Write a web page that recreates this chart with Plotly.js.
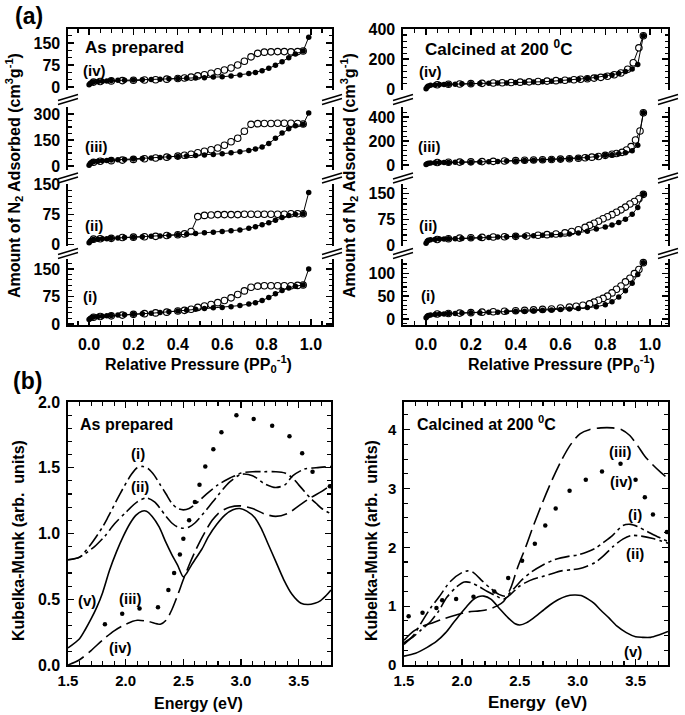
<!DOCTYPE html>
<html><head><meta charset="utf-8">
<script src="https://cdn.plot.ly/plotly-3.0.1.min.js"></script>
<style>html,body{margin:0;padding:0;background:#fff}#chart{width:685px;height:715px}</style>
</head><body><div id="chart"></div>
<script>
// ---------- (a) N2 isotherms, "As prepared" ----------
const apAdsP = [0.0,0.005,0.01,0.02,0.04,0.06,0.08,0.1,0.13,0.16,0.2,0.24,0.28,0.32,0.36,0.4,0.44,0.48,0.52,0.56,0.6,0.64,0.68,0.72,0.75,0.78,0.81,0.84,0.87,0.9,0.93,0.965,0.99];
const apDesP = [0.965,0.94,0.91,0.88,0.85,0.82,0.79,0.76,0.73,0.70,0.67,0.64,0.61,0.58,0.55,0.52,0.49,0.46,0.43,0.4,0.35,0.3,0.25,0.2,0.15,0.1,0.05,0.02];
const apI_ads   = [12,15,17,19,20,21,22,23,24,25,26,28,29,31,33,35,37,40,42,44,45,47,50,54,58,64,72,82,91,98,103,106,150];
const apI_des   = [106,105,104,104,104,104,104,103,100,90,80,71,64,58,53,49,45,40,37,35,32,30,28,26,24,22,20,18];
const apII_ads  = [5,9,11,13,14,15,15,16,17,18,19,20,21,22,23,25,26,28,30,31,33,35,37,41,45,50,55,61,68,73,76,77,130];
const apII_des  = [77,77,77,76,76,76,76,76,76,76,75,75,75,75,74,73,70,33,27,25,23,21,20,19,18,16,15,14];
const apIII_ads = [5,15,20,25,28,30,32,34,36,38,40,43,46,49,52,55,58,61,64,67,71,76,82,90,98,110,130,160,190,215,232,240,305];
const apIII_des = [242,245,246,246,246,245,245,244,240,200,160,140,120,104,94,85,76,68,62,57,51,46,42,38,34,31,27,22];
const apIV_ads  = [8,12,15,17,19,20,21,22,23,23,24,25,26,27,28,29,30,31,32,34,35,38,41,46,50,56,64,74,86,100,113,123,170];
const apIV_des  = [123,121,120,121,121,120,119,115,103,88,75,65,58,52,47,42,38,34,31,29,27,25,24,23,22,21,19,17];

// ---------- (a) N2 isotherms, "Calcined at 200 C" ----------
const caAdsP = [0.0,0.005,0.01,0.02,0.04,0.06,0.08,0.1,0.13,0.16,0.2,0.24,0.28,0.32,0.36,0.4,0.44,0.48,0.52,0.56,0.6,0.64,0.68,0.72,0.76,0.8,0.83,0.86,0.89,0.92,0.945,0.97];
const caI_ads   = [3,6,8,9,10,11,11,12,12,13,14,14,15,15,16,17,17,18,19,20,21,22,23,25,27,31,38,48,62,78,97,123];
const caI_desP  = [0.97,0.95,0.93,0.91,0.89,0.87,0.85,0.83,0.81,0.79,0.77,0.75,0.73,0.7,0.67,0.64,0.6,0.56,0.52,0.48,0.44,0.4,0.35,0.3,0.25,0.2,0.15,0.1,0.05];
const caI_des   = [123,108,99,89,81,72,65,57,50,45,41,37,33,30,28,26,24,22,21,20,19,18,17,16,15,14,13,12,11];
const caII_ads  = [6,12,15,16,17,18,18,19,19,20,21,22,23,24,25,26,27,28,29,30,31,33,36,41,47,53,59,66,76,90,110,148];
const caII_desP = [0.97,0.95,0.93,0.91,0.89,0.87,0.85,0.83,0.81,0.79,0.77,0.75,0.73,0.71,0.68,0.65,0.62,0.58,0.54,0.5,0.45,0.4,0.35,0.3,0.25,0.2,0.15,0.1,0.05];
const caII_des  = [148,135,127,120,111,103,96,89,83,77,70,64,58,52,45,40,36,33,31,29,27,26,25,24,23,22,21,19,17];
const caIII_ads = [3,10,14,17,19,20,21,21,22,22,23,25,27,29,32,34,37,40,42,45,48,52,57,62,70,80,86,94,102,118,165,435];
const caIII_desP= [0.97,0.955,0.935,0.915,0.895,0.875,0.85,0.83,0.8,0.77,0.74,0.71,0.68,0.64,0.6,0.56,0.52,0.48,0.44,0.4,0.35,0.3,0.25,0.2,0.15,0.1,0.05];
const caIII_des = [435,283,208,153,125,105,95,89,80,71,65,60,56,52,49,46,44,41,39,36,33,30,28,26,24,22,20];
const caIV_ads  = [4,15,22,26,29,31,32,33,34,36,37,38,40,41,42,44,46,48,50,53,57,61,66,72,79,88,95,104,118,135,165,355];
const caIV_desP = [0.97,0.95,0.925,0.9,0.87,0.84,0.81,0.78,0.75,0.72,0.69,0.66,0.62,0.58,0.54,0.5,0.46,0.42,0.38,0.34,0.3,0.25,0.2,0.15,0.1,0.05];
const caIV_des  = [355,275,176,133,108,96,86,79,74,70,66,63,60,57,54,51,49,47,45,43,41,39,37,35,33,30];

// ---------- (b) Kubelka-Munk spectra, "As prepared" ----------
const apE_i   = [1.5,1.6,1.7,1.8,1.85,1.95,2.05,2.1,2.15,2.2,2.25,2.3,2.35,2.4,2.45,2.5,2.55,2.6,2.7,2.8,2.9,2.95,3.0,3.1,3.2,3.3,3.38,3.45,3.5,3.55,3.6,3.65,3.7,3.78];
const apK_i   = [0.8,0.82,0.92,1.05,1.13,1.3,1.45,1.5,1.51,1.49,1.44,1.37,1.3,1.23,1.19,1.18,1.19,1.22,1.3,1.37,1.42,1.44,1.46,1.47,1.47,1.47,1.46,1.42,1.37,1.32,1.27,1.23,1.19,1.15];
const apE_ii  = [1.5,1.6,1.7,1.73,1.82,1.9,2.0,2.1,2.18,2.25,2.3,2.35,2.4,2.45,2.5,2.55,2.6,2.7,2.8,2.9,3.0,3.1,3.2,3.3,3.38,3.45,3.55,3.65,3.78];
const apK_ii  = [0.8,0.82,0.88,0.9,0.98,1.07,1.16,1.24,1.27,1.24,1.19,1.13,1.08,1.05,1.04,1.05,1.08,1.18,1.29,1.39,1.45,1.44,1.38,1.35,1.37,1.44,1.49,1.5,1.51];
const apE_iii = [1.82,1.97,2.12,2.28,2.37,2.42,2.47,2.5,2.55,2.6,2.64,2.69,2.76,2.83,2.96,3.11,3.27,3.42,3.53,3.62,3.77];
const apK_iii = [0.31,0.39,0.43,0.44,0.57,0.7,0.84,0.96,1.1,1.24,1.37,1.51,1.64,1.77,1.9,1.87,1.82,1.74,1.61,1.47,1.36];
const apE_iv  = [1.5,1.6,1.7,1.8,1.9,2.0,2.1,2.2,2.3,2.35,2.4,2.45,2.5,2.55,2.6,2.65,2.7,2.75,2.8,2.85,2.9,3.0,3.1,3.2,3.3,3.4,3.5,3.6,3.7,3.78];
const apK_iv  = [0.0,0.04,0.11,0.19,0.26,0.31,0.34,0.33,0.31,0.34,0.42,0.53,0.65,0.76,0.86,0.95,1.03,1.1,1.15,1.18,1.2,1.21,1.19,1.15,1.13,1.15,1.21,1.27,1.32,1.37];
const apE_v   = [1.5,1.6,1.65,1.7,1.75,1.8,1.86,1.92,1.98,2.04,2.09,2.14,2.18,2.23,2.29,2.35,2.4,2.45,2.5,2.53,2.57,2.6,2.66,2.72,2.79,2.86,2.93,2.99,3.05,3.12,3.18,3.23,3.3,3.37,3.44,3.52,3.58,3.64,3.69,3.74,3.78];
const apK_v   = [0.13,0.2,0.27,0.35,0.44,0.55,0.72,0.86,0.98,1.08,1.14,1.17,1.17,1.13,1.05,0.93,0.84,0.76,0.67,0.7,0.76,0.8,0.88,0.98,1.07,1.14,1.18,1.19,1.17,1.12,1.03,0.93,0.79,0.65,0.54,0.47,0.46,0.47,0.49,0.53,0.57];

// ---------- (b) Kubelka-Munk spectra, "Calcined at 200 C" ----------
const caE_i   = [1.5,1.58,1.65,1.73,1.8,1.9,2.0,2.05,2.1,2.18,2.25,2.32,2.38,2.45,2.52,2.6,2.7,2.8,2.93,3.0,3.08,3.15,3.22,3.3,3.39,3.46,3.52,3.6,3.7,3.78];
const caK_i   = [0.35,0.5,0.72,0.97,1.15,1.42,1.57,1.6,1.57,1.42,1.3,1.2,1.17,1.3,1.45,1.58,1.7,1.79,1.85,1.87,1.92,1.98,2.08,2.2,2.37,2.39,2.35,2.27,2.17,2.1];
const caE_ii  = [1.5,1.58,1.65,1.73,1.8,1.87,1.95,2.02,2.08,2.15,2.22,2.3,2.36,2.42,2.49,2.55,2.62,2.69,2.79,2.86,2.95,3.02,3.08,3.15,3.22,3.31,3.39,3.46,3.55,3.65,3.78];
const caK_ii  = [0.38,0.48,0.6,0.74,0.92,1.15,1.32,1.41,1.4,1.33,1.25,1.17,1.12,1.2,1.33,1.4,1.46,1.5,1.56,1.6,1.62,1.64,1.68,1.74,1.85,2.02,2.14,2.2,2.19,2.15,2.07];
const caE_iii = [1.5,1.58,1.65,1.75,1.85,1.95,2.05,2.15,2.22,2.3,2.36,2.42,2.48,2.55,2.62,2.7,2.78,2.86,2.94,3.02,3.1,3.2,3.3,3.38,3.45,3.52,3.58,3.65,3.72,3.78];
const caK_iii = [0.42,0.57,0.65,0.72,0.79,0.85,0.9,0.92,0.94,1.0,1.08,1.3,1.65,2.0,2.38,2.78,3.15,3.48,3.75,3.93,4.0,4.03,4.03,4.0,3.9,3.72,3.55,3.4,3.27,3.17];
const caE_iv  = [1.54,1.66,1.78,1.83,1.95,2.1,2.28,2.4,2.52,2.63,2.72,2.81,2.93,3.07,3.21,3.37,3.5,3.58,3.65,3.77];
const caK_iv  = [0.83,0.89,0.97,1.1,1.12,1.16,1.25,1.48,1.77,2.06,2.37,2.66,2.96,3.15,3.29,3.42,3.15,2.85,2.56,2.26];
const caE_v   = [1.5,1.6,1.7,1.78,1.86,1.92,1.98,2.04,2.09,2.14,2.19,2.25,2.32,2.4,2.46,2.5,2.56,2.62,2.69,2.76,2.83,2.9,2.97,3.03,3.09,3.14,3.2,3.27,3.34,3.42,3.5,3.56,3.63,3.7,3.78];
const caK_v   = [0.15,0.2,0.3,0.4,0.55,0.7,0.85,0.99,1.1,1.16,1.17,1.12,0.97,0.8,0.7,0.68,0.72,0.8,0.91,1.02,1.11,1.17,1.19,1.18,1.12,1.05,0.93,0.8,0.66,0.55,0.48,0.47,0.47,0.51,0.57];

// ---------- tick labels ----------
const pressureTicks = [0.0,0.2,0.4,0.6,0.8,1.0];

// ================= build =================
const W = 685, H = 715;
const FONT = "Arial, 'Liberation Sans', sans-serif";
const px = v => v / W, py = v => 1 - v / H;

const layout = {
  width: W, height: H, margin: {l:0, r:0, t:0, b:0},
  paper_bgcolor: '#fff', plot_bgcolor: 'rgba(0,0,0,0)', showlegend: false,
  font: {family: FONT, color: '#000', size: 14},
  annotations: [], shapes: []
};
const traces = [];

const rowsPx = [[29,90],[107,170],[184,246],[259,325]];
const colsPx = [[68,332],[403,668]];
const colXR  = [[-0.095,1.095],[-0.103,1.08]];

// panel order: rows top->bottom (iv, iii, ii, i)
const iso = [
  {col:0,row:0, aX:apAdsP, aY:apIV_ads,  dX:apDesP,     dY:apIV_des,  yr:[-10,198], dt:75,  mn:25},
  {col:0,row:1, aX:apAdsP, aY:apIII_ads, dX:apDesP,     dY:apIII_des, yr:[-23,340], dt:150, mn:37.5},
  {col:0,row:2, aX:apAdsP, aY:apII_ads,  dX:apDesP,     dY:apII_des,  yr:[-3,151],  dt:75,  mn:15},
  {col:0,row:3, aX:apAdsP, aY:apI_ads,   dX:apDesP,     dY:apI_des,   yr:[-3,177],  dt:75,  mn:15},
  {col:1,row:0, aX:caAdsP, aY:caIV_ads,  dX:caIV_desP,  dY:caIV_des,  yr:[-5,400],  dt:200, mn:40},
  {col:1,row:1, aX:caAdsP, aY:caIII_ads, dX:caIII_desP, dY:caIII_des, yr:[-42,483], dt:200, mn:40},
  {col:1,row:2, aX:caAdsP, aY:caII_ads,  dX:caII_desP,  dY:caII_des,  yr:[-2,178],  dt:75,  mn:15},
  {col:1,row:3, aX:caAdsP, aY:caI_ads,   dX:caI_desP,   dY:caI_des,   yr:[-13,131], dt:50,  mn:10}
];

iso.forEach((p, i) => {
  const k = i + 1;
  const xd = colsPx[p.col], yd = rowsPx[p.row];
  const isTop = p.row === 0, isBot = p.row === 3;
  const showX = isTop || isBot;
  const xa = {
    domain: [px(xd[0]), px(xd[1])], range: colXR[p.col], anchor: 'y' + k,
    side: isTop ? 'top' : 'bottom', showline: showX, linewidth: 1.6, linecolor: '#000',
    ticks: showX ? 'inside' : '', ticklen: 6, tickwidth: 1.3, tickcolor: '#000',
    showticklabels: isBot, showgrid: false, zeroline: false
  };
  if (showX) {
    Object.assign(xa, {
      tickmode: 'array', tickvals: pressureTicks, ticktext: pressureTicks.map(v => v.toFixed(1)),
      tickfont: {family: FONT, size: 16, weight: 700}, ticklabelstandoff: 4,
      minor: {tickmode:'linear', tick0: 0, dtick: 0.05, ticks: 'inside', ticklen: 4, tickwidth: 1.1, tickcolor:'#000'}
    });
  }
  layout['xaxis' + k] = xa;
  layout['yaxis' + k] = {
    domain: [py(yd[1]), py(yd[0])], range: p.yr, anchor: 'x' + k,
    showline: true, mirror: 'ticks', linewidth: 1.6, linecolor: '#000',
    ticks: 'inside', ticklen: 6, tickwidth: 1.3, tickcolor: '#000',
    tickmode: 'linear', tick0: 0, dtick: p.dt,
    tickfont: {family: FONT, size: 16, weight: 700}, ticklabelstandoff: 3,
    showgrid: false, zeroline: false,
    minor: {tickmode:'linear', tick0: 0, dtick: p.mn, ticks: 'inside', ticklen: 3.5, tickwidth: 1.1, tickcolor:'#000'}
  };
  traces.push({x: p.dX, y: p.dY, xaxis: 'x' + k, yaxis: 'y' + k, type: 'scatter', mode: 'lines+markers',
    line: {color: '#000', width: 1}, cliponaxis: false,
    marker: {symbol: 'circle', size: 6.5, color: '#fff', line: {color: '#000', width: 1.1}}});
  traces.push({x: p.aX, y: p.aY, xaxis: 'x' + k, yaxis: 'y' + k, type: 'scatter', mode: 'lines+markers',
    line: {color: '#000', width: 1}, cliponaxis: false,
    marker: {symbol: 'circle', size: 5.5, color: '#000'}});
});

// break marks on the broken axes
const gaps = [98.5, 177, 252.5];
colsPx.forEach(c => c.forEach(x => gaps.forEach(g => {
  [[-1,-7],[3,-3]].forEach(([a,b]) => {
    layout.shapes.push({type:'line', xref:'paper', yref:'paper',
      x0: px(x - 10), y0: py(g + 3 + a), x1: px(x + 10), y1: py(g + 3 + b),
      line: {color:'#000', width: 1.4}});
  });
})));

// ---------- spectra ----------
const specDomY = [py(665), py(402)];
layout.xaxis9 = {domain:[px(68),px(331)], range:[1.5,3.78], anchor:'y9', showline:true, mirror:'ticks',
  linewidth:1.6, linecolor:'#000', ticks:'inside', ticklen:6, tickwidth:1.3, tickcolor:'#000',
  tickmode:'linear', tick0:1.5, dtick:0.5, tickformat:'.1f', tickfont:{family:FONT,size:15,weight:700},
  ticklabelstandoff:1, showgrid:false, zeroline:false,
  minor:{tickmode:'linear', tick0:1.5, dtick:0.1, ticks:'inside', ticklen:4, tickwidth:1.1, tickcolor:'#000'}};
layout.yaxis9 = {domain:specDomY, range:[0,2], anchor:'x9', showline:true, mirror:'ticks',
  linewidth:1.6, linecolor:'#000', ticks:'inside', ticklen:6, tickwidth:1.3, tickcolor:'#000',
  tickmode:'linear', tick0:0, dtick:0.5, tickformat:'.1f', tickfont:{family:FONT,size:16,weight:700},
  ticklabelstandoff:3, showgrid:false, zeroline:false,
  minor:{tickmode:'linear', tick0:0, dtick:0.1, ticks:'inside', ticklen:4, tickwidth:1.1, tickcolor:'#000'}};
layout.xaxis10 = Object.assign({}, layout.xaxis9, {domain:[px(404),px(668)], anchor:'y10'});
layout.yaxis10 = Object.assign({}, layout.yaxis9, {anchor:'x10', range:[0,4.47], dtick:1, tickformat:'d',
  tickfont:{family:FONT,size:15,weight:700},
  minor:{tickmode:'linear', tick0:0, dtick:0.25, ticks:'inside', ticklen:4, tickwidth:1.1, tickcolor:'#000'}});

const DASHDOT = '15px,4px,3px,4px';
const LONGDASH = '18px,6px';
function curve(x, y, ax, style) {
  const t = {x, y, xaxis: 'x' + ax, yaxis: 'y' + ax, type: 'scatter', cliponaxis: true};
  if (style === 'dots') {
    t.mode = 'markers'; t.marker = {symbol:'circle', size: 4.5, color: '#000'};
  } else {
    t.mode = 'lines';
    t.line = {color:'#000', width: 1.6, shape:'spline', smoothing: 0.8,
      dash: style === 'solid' ? 'solid' : (style === 'dashdot' ? DASHDOT : LONGDASH)};
  }
  traces.push(t);
}
curve(apE_v, apK_v, 9, 'solid');
curve(apE_i, apK_i, 9, 'dashdot');
curve(apE_ii, apK_ii, 9, 'dashdot');
curve(apE_iv, apK_iv, 9, 'longdash');
curve(apE_iii, apK_iii, 9, 'dots');
curve(caE_v, caK_v, 10, 'solid');
curve(caE_i, caK_i, 10, 'dashdot');
curve(caE_ii, caK_ii, 10, 'dashdot');
curve(caE_iii, caK_iii, 10, 'longdash');
curve(caE_iv, caK_iv, 10, 'dots');

// ---------- text ----------
function ann(text, x, y, o) {
  layout.annotations.push(Object.assign({text, x: px(x), y: py(y), xref:'paper', yref:'paper',
    showarrow:false, xanchor:'center', yanchor:'middle',
    font:{family:FONT, size:15, weight:700, color:'#000'}}, o || {}));
}
const big = s => ({font:{family:FONT, size:s, weight:700, color:'#000'}});
ann('(a)', 29, 16, big(23));
ann('(b)', 27, 381, big(23));
ann('Amount of N<sub>2</sub> Adsorbed (cm<sup>3</sup>g<sup>-1</sup>)', 14, 176, Object.assign({textangle:-90}, big(16)));
ann('Amount of N<sub>2</sub> Adsorbed (cm<sup>3</sup>g<sup>-1</sup>)', 349, 176, Object.assign({textangle:-90}, big(16)));
ann('Relative Pressure (PP<sub>0</sub><sup>-1</sup>)', 198, 364, big(16));
ann('Relative Pressure (PP<sub>0</sub><sup>-1</sup>)', 561, 364, big(16));
ann('As prepared', 83, 47, Object.assign({xanchor:'left'}, big(17)));
ann('Calcined at 200 <sup>0</sup>C', 423, 48, Object.assign({xanchor:'left'}, big(17)));
ann('(iv)', 94, 70); ann('(iii)', 96, 147); ann('(ii)', 94, 225); ann('(i)', 90, 296);
ann('(iv)', 430, 72); ann('(iii)', 429, 147); ann('(ii)', 428, 226); ann('(i)', 428, 295);

ann('Kubelka-Munk (arb.&nbsp; units)', 18, 541, Object.assign({textangle:-90}, big(16)));
ann('Kubelka-Munk (arb.&nbsp; units)', 371, 541, Object.assign({textangle:-90}, big(16)));
ann('Energy (eV)', 198, 703, big(16));
ann('Energy&nbsp; (eV)', 537, 702, big(17));
ann('As prepared', 78, 424, Object.assign({xanchor:'left'}, big(16)));
ann('Calcined at 200 <sup>0</sup>C', 415, 423, Object.assign({xanchor:'left'}, big(16)));
ann('(i)', 138, 453); ann('(ii)', 140, 486); ann('(iii)', 130, 598); ann('(iv)', 120, 647); ann('(v)', 87, 600);
ann('(iii)', 620, 451); ann('(iv)', 621, 481); ann('(i)', 635, 514); ann('(ii)', 635, 553); ann('(v)', 633, 651);

Plotly.newPlot('chart', traces, layout, {staticPlot: true, displayModeBar: false});
</script></body></html>
